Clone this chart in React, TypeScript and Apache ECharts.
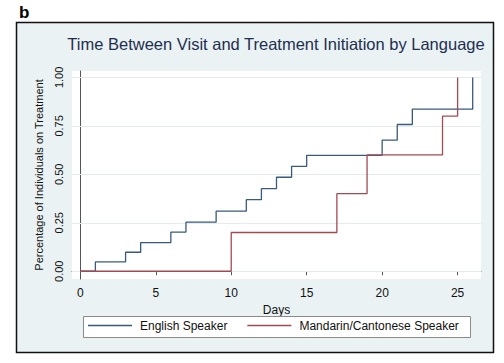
import React, { useEffect, useRef } from "react";
import * as echarts from "echarts";

const englishDays = [0, 1, 3, 4, 6, 7, 9, 11, 12, 13, 14, 15, 20, 21, 22, 26];
const englishValues = [0, 0.048, 0.098, 0.148, 0.202, 0.253, 0.31, 0.369, 0.426, 0.485, 0.541, 0.598, 0.676, 0.757, 0.836, 1.0];
const mandarinDays = [0, 10, 17, 19, 24, 25];
const mandarinValues = [0, 0.2, 0.4, 0.6, 0.8, 1.0];
const xTicks = [0, 5, 10, 15, 20, 25];
const yTicks = [0, 0.25, 0.5, 0.75, 1];
const seriesNames = ["English Speaker", "Mandarin/Cantonese Speaker"];
const titleText = "Time Between Visit and Treatment Initiation by Language";

const FONT = "Liberation Sans, Arial, sans-serif";
const BLUE = "#3a5a7c";
const RED = "#a24a52";

export default function App() {
  const ref = useRef<HTMLDivElement>(null);
  useEffect(() => {
    if (!ref.current) return;
    const chart = echarts.init(ref.current, undefined, { renderer: "svg" });
    const eng = englishDays.map((d, i) => [d, englishValues[i]]);
    const man = mandarinDays.map((d, i) => [d, mandarinValues[i]]);
    chart.setOption({
      animation: false,
      textStyle: { fontFamily: FONT },
      graphic: [
        {
          type: "rect",
          z: -10,
          silent: true,
          shape: { x: 16.5, y: 22.5, width: 477, height: 330 },
          style: { fill: "#eaf2f3", stroke: "#111", lineWidth: 1.5 },
        },
        {
          type: "text",
          x: 19,
          y: 4,
          style: { text: "b", font: "bold 17px " + FONT, fill: "#000" },
        },
        {
          type: "text",
          x: 276,
          y: 44,
          style: {
            text: titleText,
            font: "16.5px " + FONT,
            fill: "#1e2f50",
            align: "center",
            verticalAlign: "middle",
          },
        },
        {
          type: "rect",
          z: 1,
          silent: true,
          shape: { x: 83.5, y: 316.5, width: 387, height: 21 },
          style: { fill: "#fff", stroke: "#8a8a8a", lineWidth: 1 },
        },
      ],
      grid: {
        left: 72,
        right: 23,
        top: 71,
        bottom: 84,
        show: true,
        backgroundColor: "#fff",
        borderWidth: 0,
      },
      legend: {
        left: 83,
        top: 314.5,
        padding: 5,
        selectedMode: false,
        icon: "rect",
        itemWidth: 44,
        itemHeight: 1.4,
        itemGap: 20,
        z: 5,
        textStyle: { fontSize: 12, color: "#111", fontFamily: FONT, padding: [0, 0, 0, 3] },
        data: [
          { name: seriesNames[0], itemStyle: { color: BLUE } },
          { name: seriesNames[1], itemStyle: { color: RED } },
        ],
      },
      xAxis: {
        type: "value",
        min: -0.55,
        max: 26.55,
        name: "Days",
        nameLocation: "middle",
        nameGap: 18,
        nameTextStyle: { fontSize: 12, color: "#111", fontFamily: FONT },
        axisLine: { show: true, lineStyle: { color: "#555", width: 1 } },
        axisTick: { show: true, length: 4, customValues: xTicks, lineStyle: { color: "#555" } },
        axisLabel: { customValues: xTicks, fontSize: 12, color: "#111", margin: 8, fontFamily: FONT },
        splitLine: { show: false },
      },
      yAxis: {
        type: "value",
        min: -0.04,
        max: 1.033,
        name: "Percentage of Individuals on Treatment",
        nameLocation: "middle",
        nameGap: 28,
        nameTextStyle: { fontSize: 11, color: "#111", fontFamily: FONT },
        axisLine: { show: true, lineStyle: { color: "#555", width: 1 } },
        axisTick: { show: true, length: 4, customValues: yTicks, lineStyle: { color: "#555" } },
        axisLabel: {
          customValues: yTicks,
          rotate: 90,
          fontSize: 11,
          color: "#111",
          margin: 8,
          fontFamily: FONT,
          formatter: (v: number) => v.toFixed(2),
        },
        splitLine: { show: false },
      },
      series: [
        {
          name: seriesNames[0],
          type: "line",
          step: "end",
          symbol: "none",
          data: eng,
          lineStyle: { color: BLUE, width: 1.3 },
          itemStyle: { color: BLUE },
          z: 3,
          markLine: {
            silent: true,
            symbol: "none",
            label: { show: false },
            lineStyle: { color: "#e4ecee", width: 1, type: "solid" },
            z: 1,
            data: yTicks.map((v) => ({ yAxis: v })),
          },
        },
        {
          name: seriesNames[1],
          type: "line",
          step: "end",
          symbol: "none",
          data: man,
          lineStyle: { color: RED, width: 1.3 },
          itemStyle: { color: RED },
          z: 4,
        },
      ],
    });
    return () => chart.dispose();
  }, []);
  return (
    <div
      ref={ref}
      style={{ position: "fixed", left: 0, top: 0, width: 504, height: 363, background: "#fff" }}
    />
  );
}
